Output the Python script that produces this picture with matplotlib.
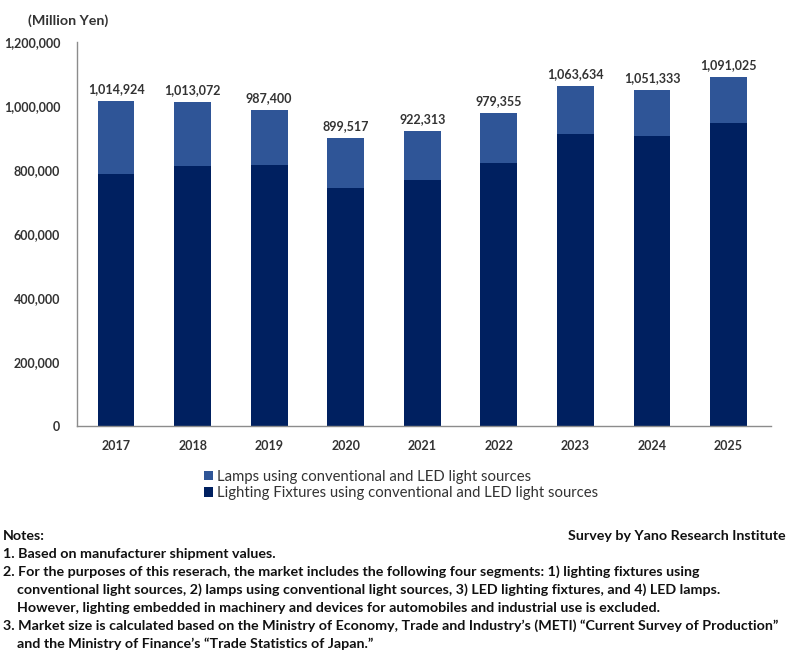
import numpy as np
import matplotlib
matplotlib.use('Agg')
import matplotlib.pyplot as plt

years = ['2017', '2018', '2019', '2020', '2021', '2022', '2023', '2024', '2025']
totals = [1014924, 1013072, 987400, 899517, 922313, 979355, 1063634, 1051333, 1091025]
# lighting fixtures (dark segment)
fixtures = [787000, 812000, 815000, 744000, 769000, 822000, 912000, 906000, 947000]
lamps = [t - f for t, f in zip(totals, fixtures)]

lamp_label = 'Lamps using conventional and LED light sources'
fixture_label = 'Lighting Fixtures using conventional and LED light sources'

notes = [
    'Notes:',
    '1. Based on manufacturer shipment values.',
    '2. For the purposes of this reserach, the market includes the following four segments: 1) lighting fixtures using',
    '    conventional light sources, 2) lamps using conventional light sources, 3) LED lighting fixtures, and 4) LED lamps.',
    '    However, lighting embedded in machinery and devices for automobiles and industrial use is excluded.',
    '3. Market size is calculated based on the Ministry of Economy, Trade and Industry\u2019s (METI) \u201cCurrent Survey of Production\u201d',
    '    and the Ministry of Finance\u2019s \u201cTrade Statistics of Japan.\u201d',
]

plt.rcParams['font.family'] = ['Lato', 'DejaVu Sans']
txt = '#333333'
c_lamp = '#2F5597'
c_fix = '#002060'

fig = plt.figure(figsize=(7.89, 6.51), dpi=100)
ax = fig.add_axes([0.0976, 0.346, 0.880, 0.5895])

x = np.arange(len(years))
ax.bar(x, fixtures, width=0.48, color=c_fix, label=fixture_label)
ax.bar(x, lamps, width=0.48, bottom=fixtures, color=c_lamp, label=lamp_label)

for xi, t in zip(x, totals):
    ax.text(xi, t + 18000, f'{t:,}', ha='center', va='bottom', fontsize=9,
            fontweight='bold', color=txt)

ax.set_xlim(-0.51, 8.56)
ax.set_ylim(0, 1200000)
ax.set_yticks(np.arange(0, 1200001, 200000))
ax.set_yticklabels([f'{v:,}' for v in range(0, 1200001, 200000)])
ax.set_xticks(x)
ax.set_xticklabels(years)
ax.tick_params(axis='both', length=0, labelsize=9, colors=txt)
ax.tick_params(axis='x', pad=10)
ax.tick_params(axis='y', pad=12)
for lbl in ax.get_xticklabels() + ax.get_yticklabels():
    lbl.set_fontweight('bold')
for side in ['top', 'right']:
    ax.spines[side].set_visible(False)
for side in ['left', 'bottom']:
    ax.spines[side].set_color('#8c8c8c')
    ax.spines[side].set_linewidth(1.0)

fig.text(0.035, 0.968, '(Million Yen)', fontsize=10.3, fontweight='bold', color=txt,
         ha='left', va='center')

handles, labels = ax.get_legend_handles_labels()
fig.legend(handles[::-1], labels[::-1], loc='center left', bbox_to_anchor=(0.242, 0.255),
           frameon=False, fontsize=10.7, handlelength=0.6, handleheight=0.6,
           handletextpad=0.25, labelspacing=0.15, labelcolor=txt)

y0 = 1 - 536 / 651
dy = 18.0 / 651
for i, line in enumerate(notes):
    fig.text(0.004, y0 - i * dy, line, fontsize=10.3, fontweight='bold', color='#111111',
             ha='left', va='center')
fig.text(0.996, y0, 'Survey by Yano Research Institute', fontsize=10.3, fontweight='bold',
         color='#111111', ha='right', va='center')

fig.savefig('out.png', dpi=100)
